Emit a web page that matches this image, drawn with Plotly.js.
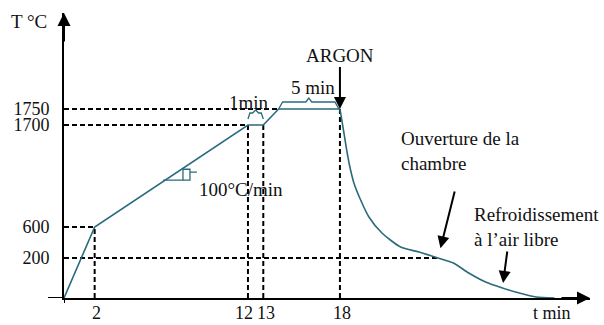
<!DOCTYPE html>
<html><head><meta charset="utf-8">
<script src="https://cdn.plot.ly/plotly-3.0.1.min.js"></script>
<style>html,body{margin:0;padding:0;background:#fff}#chart{width:604px;height:325px}</style>
</head><body><div id="chart"></div>
<script>
// ---- data (time in min, temperature in °C) ----
const heatTime = [0, 2, 12, 13, 14, 18];
const heatTemp = [0, 600, 1700, 1700, 1750, 1750];
const coolTime = [18, 18.26, 18.44, 18.65, 18.91, 19.35, 19.89, 20.74, 21.96, 23.15, 24.4, 25.4, 26.4, 27.5, 28.6, 29.7, 30.8, 32.0];
const coolTemp = [1750, 1614, 1430, 1247, 1075, 891, 708, 523, 342, 277, 200, 175, 125, 80, 50, 25, 5, 0];
const xTicks = [2, 12, 13, 18];
const xTickLabels = ['2', '12', '13', '18'];
const yTicks = [200, 600, 1700, 1750];
const yTickLabels = ['200', '600', '1700', '1750'];
const labels = {
  yTitle: 'T °C', xTitle: 't min', argon: 'ARGON', hold5: '5 min', hold1: '1min',
  rate: '100°C/min', opening: 'Ouverture de la<br>chambre', air: 'Refroidissement<br>à l’air libre'
};

// ---- schematic (non-uniform) temperature scale, as drawn in the original ----
const scaleT = [0, 200, 600, 1700, 1750];
const scaleH = [0, 40, 71, 173, 189];
function Y(t) {
  for (let i = 1; i < scaleT.length; i++) {
    if (t <= scaleT[i]) {
      const f = (t - scaleT[i - 1]) / (scaleT[i] - scaleT[i - 1]);
      return scaleH[i - 1] + f * (scaleH[i] - scaleH[i - 1]);
    }
  }
  const n = scaleT.length - 1;
  return scaleH[n] + (t - scaleT[n]) * (scaleH[n] - scaleH[n - 1]) / (scaleT[n] - scaleT[n - 1]);
}

// ---- layout geometry ----
const W = 604, H = 325, ML = 64, MR = 14, MT = 13, MB = 27;
const PW = W - ML - MR, PH = H - MT - MB;
const K = 15.33;             // px per minute
const XMAX = PW / K;
const teal = '#2b6a7c';
const FONT = '"Liberation Serif", "Times New Roman", serif';
const px = p => p / K;
const paperX = p => (p - ML) / PW;
const paperY = p => (H - MB - p) / PH;

// guide (dashed) lines built from the profile points
const gx = [], gy = [];
function seg(x0, y0, x1, y1) { gx.push(x0, x1, null); gy.push(y0, y1, null); }
[1, 2, 3, 5].forEach(i => seg(heatTime[i], 0, heatTime[i], Y(heatTemp[i])));
[1, 2, 4].forEach(i => seg(0, Y(heatTemp[i]), heatTime[i], Y(heatTemp[i])));
const iOpen = coolTemp.indexOf(200);
seg(0, Y(coolTemp[iOpen]), coolTime[iOpen], Y(coolTemp[iOpen]));

const traces = [
  { x: gx, y: gy, mode: 'lines', line: { color: '#000', width: 2, dash: '5px,3px' }, hoverinfo: 'skip', connectgaps: false },
  { x: heatTime, y: heatTemp.map(Y), mode: 'lines', line: { color: teal, width: 1.6 } },
  { x: coolTime, y: coolTemp.map(Y), mode: 'lines', line: { color: teal, width: 1.6, shape: 'spline', smoothing: 0.7 } }
];

// braces & slope triangle
function brace(xs, xe, base, lvl, peak, d) {
  const m = (xs + xe) / 2;
  return `M${xs},${base} L${xs + px(d)},${lvl} L${m - px(3)},${lvl} L${m},${peak} L${m + px(3)},${lvl} L${xe - px(d)},${lvl} L${xe},${base}`;
}
const y1750 = Y(heatTemp[4]), y1700 = Y(heatTemp[2]);
const t1 = 6.6, t2 = 7.76;
const interp = t => heatTemp[1] + (t - heatTime[1]) * (heatTemp[2] - heatTemp[1]) / (heatTime[2] - heatTime[1]);
const u1 = Y(interp(t1)), u2 = Y(interp(t2));
const shapes = [
  { type: 'line', xref: 'paper', yref: 'y', x0: -16 / PW, x1: 0, y0: 0, y1: 0, line: { color: '#000', width: 2 } },
  { type: 'line', xref: 'x', yref: 'paper', x0: 0, x1: 0, y0: -5 / PH, y1: 0, line: { color: '#000', width: 2 } },
  { type: 'path', xref: 'x', yref: 'y', path: brace(heatTime[4], heatTime[5] - px(1), y1750, y1750 + 7, y1750 + 11, 4), line: { color: teal, width: 1.3 } },
  { type: 'path', xref: 'x', yref: 'y', path: brace(heatTime[2], heatTime[3], y1700 + 6, y1700 + 12, y1700 + 15, 2), line: { color: teal, width: 1.3 } },
  { type: 'path', xref: 'x', yref: 'y', path: `M${t1 - px(2)},${u1} L${t2},${u1} L${t2},${u2}`, line: { color: teal, width: 1.3 } },
  { type: 'path', xref: 'x', yref: 'y', path: `M${t2},${u2 - 1} L${t2 + px(7)},${u2 - 1} L${t2 + px(7)},${u1} L${t2},${u1} M${t2 + px(7)},${(u1 + u2) / 2 + 2} L${t2 + px(14)},${(u1 + u2) / 2 + 2}`, line: { color: teal, width: 1.3 } }
];

const tf = { family: FONT, size: 19, color: '#111' };
const tickf = { family: FONT, size: 18, color: '#111' };
const arrow = { showarrow: true, arrowhead: 2, arrowsize: 1.2, arrowwidth: 2, arrowcolor: '#000' };
const txt = (x, y, text, extra) => Object.assign({ x, y, text, showarrow: false, font: tf, xanchor: 'center', yanchor: 'middle' }, extra);
const annotations = [
  // axis arrowheads
  Object.assign({ x: XMAX, y: 0, xref: 'x', yref: 'y', ax: -30, ay: 0, text: '' }, arrow, { arrowsize: 1.3 }),
  Object.assign({ x: 0, y: PH, xref: 'x', yref: 'y', ax: 0, ay: 30, text: '' }, arrow, { arrowsize: 1.3 }),
  // axis titles
  txt(paperX(29), paperY(22), labels.yTitle, { xref: 'paper', yref: 'paper' }),
  txt(paperX(552), paperY(313), labels.xTitle, { xref: 'paper', yref: 'paper', font: tickf }),
  // x tick labels
  ...xTicks.map((v, i) => txt(v, paperY(313), xTickLabels[i], { xref: 'x', yref: 'paper', font: tickf,
    xshift: v === 12 ? -4 : (v === 13 ? 3 : 2) })),
  // process labels
  Object.assign({ x: heatTime[5], y: y1750, xref: 'x', yref: 'y', ax: 0, ay: -54, text: labels.argon, font: tf }, arrow),
  txt(px(313 - ML), 211, labels.hold5, { xref: 'x', yref: 'y' }),
  txt(px(249 - ML), 196, labels.hold1, { xref: 'x', yref: 'y' }),
  txt(px(197 - ML), 109, labels.rate, { xref: 'x', yref: 'y', xanchor: 'left' }),
  txt(px(399 - ML), 147, labels.opening, { xref: 'x', yref: 'y', xanchor: 'left', align: 'left' }),
  txt(px(472 - ML), 71, labels.air, { xref: 'x', yref: 'y', xanchor: 'left', align: 'left' }),
  Object.assign({ x: coolTime[iOpen], y: Y(coolTemp[iOpen]), xref: 'x', yref: 'y', ax: 17, ay: -68, standoff: 10, text: '' }, arrow),
  Object.assign({ x: coolTime[14], y: Y(coolTemp[14]), xref: 'x', yref: 'y', ax: 5, ay: -38, standoff: 5, text: '' }, arrow)
];

const layout = {
  width: W, height: H,
  margin: { l: ML, r: MR, t: MT, b: MB, pad: 0 },
  paper_bgcolor: '#fff', plot_bgcolor: '#fff',
  showlegend: false,
  xaxis: {
    range: [0, XMAX], showgrid: false, zeroline: false, showline: true, linecolor: '#000', linewidth: 2,
    tickmode: 'array', tickvals: xTicks, ticks: '', showticklabels: false, fixedrange: true
  },
  yaxis: {
    range: [0, PH], showgrid: false, zeroline: false, showline: true, linecolor: '#000', linewidth: 2,
    tickmode: 'array', tickvals: yTicks.map(Y), ticktext: yTickLabels, ticks: '', tickfont: tickf, ticklabelstandoff: 9, fixedrange: true
  },
  shapes, annotations
};
Plotly.newPlot('chart', traces, layout, { staticPlot: true, displayModeBar: false });
</script></body></html>
